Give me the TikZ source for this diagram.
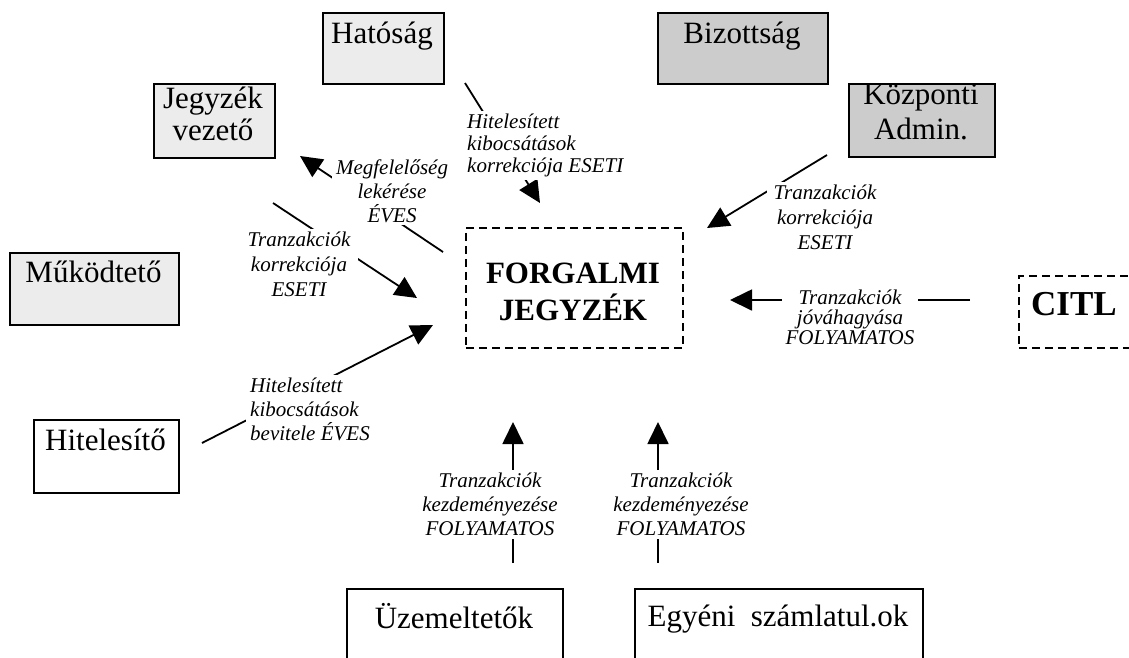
\documentclass[tikz,border=0pt]{standalone}
\usepackage{fontspec}
\setmainfont{Liberation Serif}
\usepackage{xcolor}
\usetikzlibrary{arrows.meta,positioning}
\definecolor{lightfill}{RGB}{236,236,236}
\definecolor{darkfill}{RGB}{204,204,204}

\begin{document}
\begin{tikzpicture}[x=1pt,y=-1pt,
    box/.style={draw, line width=1.6pt, anchor=north west, inner sep=0pt},
    dbox/.style={box, dash pattern=on 8pt off 5pt},
    boxtxt/.style={inner sep=0pt, align=center, font=\fontsize{31}{#1}\selectfont},
    boxtxt/.default=31,
    lbl/.style={fill=white, inner xsep=4pt, inner ysep=3pt, align=center, font=\fontsize{21}{#1}\selectfont\itshape},
    lbl/.default=24,
    conn/.style={line width=1.8pt, -{Triangle[length=22pt,width=21pt]}}]
  \useasboundingbox (0,0) rectangle (1129,657);
  \clip (0,0) rectangle (1129,657);
  % Boxes
  \node[box, fill=lightfill, minimum width=121pt, minimum height=71pt] (hatosag) at (322,12) {};
  \node[box, fill=darkfill, minimum width=170pt, minimum height=71pt] (bizottsag) at (657,12) {};
  \node[box, fill=lightfill, minimum width=121pt, minimum height=74pt] (jegyzek) at (153,83) {};
  \node[box, fill=darkfill, minimum width=146pt, minimum height=73pt] (kozponti) at (848,83) {};
  \node[box, fill=lightfill, minimum width=169pt, minimum height=72pt] (mukodteto) at (9,252) {};
  \node[box, fill=white, minimum width=145pt, minimum height=73pt] (hitelesito) at (33,419) {};
  \node[dbox, minimum width=217pt, minimum height=120pt] (forgalmi) at (465,227) {};
  \node[dbox, minimum width=220pt, minimum height=72pt] (citl) at (1018,275) {};
  \node[box, minimum width=216pt, minimum height=100pt] (uzem) at (346,588) {};
  \node[box, minimum width=288pt, minimum height=100pt] (egyeni) at (634,588) {};
  % Box texts
  \node[boxtxt] (hatosag-t) at (382,36) {Hatóság};
  \node[boxtxt] (bizottsag-t) at (742,36) {Bizottság};
  \node[boxtxt=32] (jegyzek-t) at (213,114) {Jegyzék\\vezető};
  \node[boxtxt=35] (kozponti-t) at (921,112) {Központi\\Admin.};
  \node[boxtxt] (mukodteto-t) at (93.5,272) {Működtető};
  \node[boxtxt] (hitelesito-t) at (105.5,440) {Hitelesítő};
  \node[boxtxt=37, font=\fontsize{31}{37}\selectfont\bfseries] (forgalmi-t) at (573,292) {FORGALMI\\JEGYZÉK};
  \node[boxtxt, font=\fontsize{35}{35}\selectfont\bfseries] (citl-t) at (1074,304) {CITL};
  \node[boxtxt] (uzem-t) at (454,616) {Üzemeltetők};
  \node[boxtxt] (egyeni-t) at (778,619) {Egyéni\ \ számlatul.ok};
  % Connector ends
  \coordinate (hat-s) at (465,83);   \coordinate (hat-e) at (540,203);
  \coordinate (meg-s) at (443,252);  \coordinate (meg-e) at (300,156);
  \coordinate (jkor-s) at (273,203); \coordinate (jkor-e) at (417,298);
  \coordinate (hit-s) at (202,443);  \coordinate (hit-e) at (433,325);
  \coordinate (kor-s) at (827,155);  \coordinate (kor-e) at (707,228);
  \coordinate (citl-s) at (970,300); \coordinate (citl-e) at (730,300);
  \coordinate (uzem-s) at (513,563); \coordinate (uzem-e) at (513,422);
  \coordinate (egy-s) at (658,563);  \coordinate (egy-e) at (658,422);
  % Connectors
  \draw[conn] (hat-s) -- (hat-e);
  \draw[conn] (meg-s) -- (meg-e);
  \draw[conn] (jkor-s) -- (jkor-e);
  \draw[conn] (hit-s) -- (hit-e);
  \draw[conn] (kor-s) -- (kor-e);
  \draw[conn] (citl-s) -- (citl-e);
  \draw[conn] (uzem-s) -- (uzem-e);
  \draw[conn] (egy-s) -- (egy-e);
  % Labels
  \node[lbl=22, align=left, anchor=north west] (l-hat) at (463,111) {Hitelesített\\kibocsátások\\korrekciója ESETI};
  \node[lbl, anchor=north] (l-meg) at (392,156) {Megfelelőség\\lekérése\\ÉVES};
  \node[lbl=25, inner xsep=8pt, anchor=north] (l-jkor) at (299,229) {Tranzakciók\\korrekciója\\ESETI};
  \node[lbl, align=left, anchor=north west] (l-hit) at (246,374.5) {Hitelesített\\kibocsátások\\bevitele ÉVES};
  \node[lbl=25, inner xsep=7pt, anchor=north] (l-kor) at (825,182) {Tranzakciók\\korrekciója\\ESETI};
  \node[lbl=20, anchor=north] (l-citl) at (850,287) {Tranzakciók\\jóváhagyása\\FOLYAMATOS};
  \node[lbl, anchor=north] (l-uzem) at (490,470) {Tranzakciók\\kezdeményezése\\FOLYAMATOS};
  \node[lbl, anchor=north] (l-egy) at (681,470) {Tranzakciók\\kezdeményezése\\FOLYAMATOS};
\end{tikzpicture}
\end{document}
